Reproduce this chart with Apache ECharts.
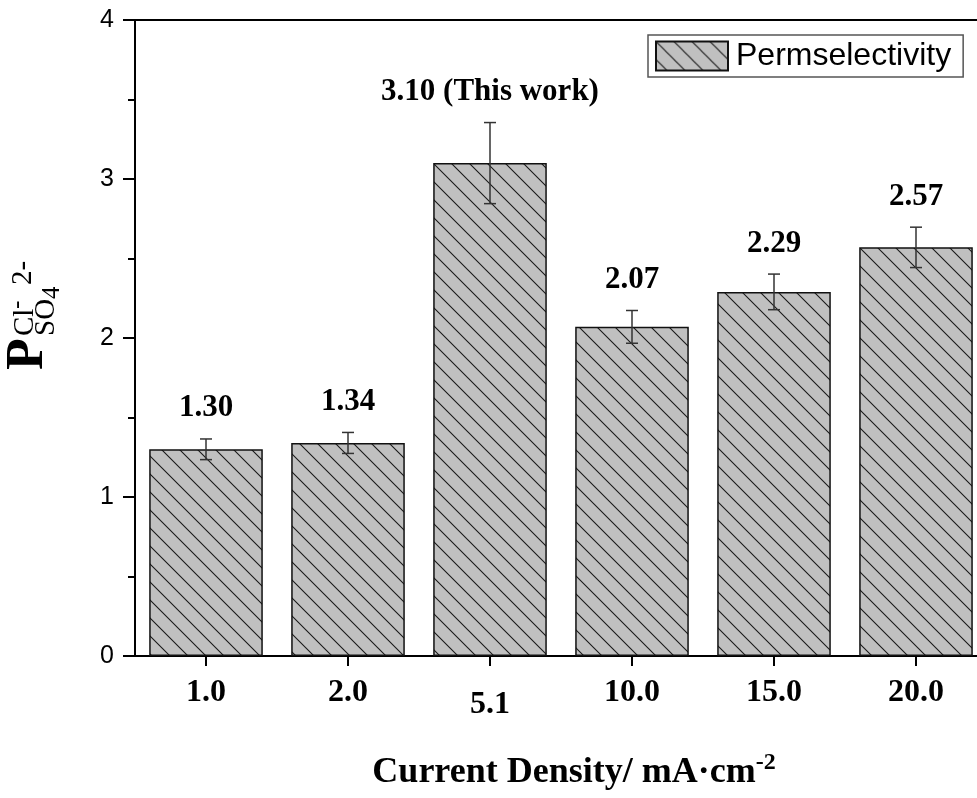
<!DOCTYPE html>
<html><head><meta charset="utf-8">
<script src="https://cdn.jsdelivr.net/npm/echarts@6/dist/echarts.min.js"></script>
<style>html,body{margin:0;padding:0;background:#fff}#c{width:977px;height:798px}</style>
</head><body><div id="c"></div>
<script>
const categories = ['1.0', '2.0', '5.1', '10.0', '15.0', '20.0'];
const values = [1.30, 1.34, 3.10, 2.07, 2.29, 2.57];
const errors = [0.065, 0.066, 0.255, 0.103, 0.112, 0.127];
const barLabels = ['1.30', '1.34', '3.10 (This work)', '2.07', '2.29', '2.57'];
const seriesName = 'Permselectivity';
const xTitle = 'Current Density/ mA·cm';
const xTitleSup = '-2';

function makePattern() {
  const s = 18;
  const c = document.createElement('canvas');
  c.width = s; c.height = s;
  const g = c.getContext('2d');
  g.fillStyle = '#c0c0c0';
  g.fillRect(0, 0, s, s);
  g.strokeStyle = '#1a1a1a';
  g.lineWidth = 1.1;
  g.beginPath();
  g.moveTo(-2, -2); g.lineTo(s + 2, s + 2);
  g.moveTo(-2, s - 2); g.lineTo(2, s + 2);
  g.moveTo(s - 2, -2); g.lineTo(s + 2, 2);
  g.stroke();
  return c;
}
const pattern = makePattern();
const serif = '"Liberation Serif", "Times New Roman", serif';
const sans = '"Liberation Sans", Arial, sans-serif';

const chart = echarts.init(document.getElementById('c'), null, {renderer: 'canvas'});
chart.setOption({
  backgroundColor: '#fff',
  animation: false,
  grid: {left: 135, width: 852, top: 20, bottom: 142, outerBoundsMode: 'none', containLabel: false, show: true, borderColor: '#000', borderWidth: 2, backgroundColor: 'transparent'},
  legend: {
    data: [seriesName], left: 648, top: 35, itemWidth: 72, itemHeight: 29,
    padding: [5, 12, 5, 7], borderColor: '#555', borderWidth: 1.5, icon: 'rect',
    textStyle: {fontFamily: sans, fontSize: 32, color: '#000', padding: [0, 0, 0, 3]}
  },
  xAxis: {
    type: 'category', data: categories,
    axisLine: {lineStyle: {color: '#000', width: 2}},
    axisTick: {show: true, alignWithLabel: true, interval: 0, length: 10, lineStyle: {color: '#000', width: 2}},
    axisLabel: {
      interval: 0,
      color: '#000', fontFamily: serif, fontWeight: 'bold', fontSize: 32, margin: 21,
      formatter: v => v === '5.1' ? '{low|' + v + '}' : v,
      rich: {low: {fontFamily: serif, fontWeight: 'bold', fontSize: 32, color: '#000', padding: [12, 0, 0, 0]}}
    },
    name: '{t|' + xTitle + '}{s|' + xTitleSup + '}',
    nameLocation: 'middle', nameGap: 95,
    nameTextStyle: {
      padding: [0, 0, 0, 26],
      rich: {
        t: {fontFamily: serif, fontWeight: 'bold', fontSize: 36, color: '#000'},
        s: {fontFamily: serif, fontWeight: 'bold', fontSize: 24, color: '#000', verticalAlign: 'top', padding: [0, 0, 20, 0]}
      }
    }
  },
  yAxis: {
    type: 'value', min: 0, max: 4, interval: 1,
    axisLine: {show: true, lineStyle: {color: '#000', width: 2}},
    axisTick: {show: true, length: 12, lineStyle: {color: '#000', width: 2}},
    minorTick: {show: true, splitNumber: 2, length: 7, lineStyle: {color: '#000', width: 2}},
    splitLine: {show: false},
    axisLabel: {color: '#000', fontFamily: sans, fontSize: 25, margin: 21}
  },
  graphic: [{
    type: 'group', x: 46, y: 370, rotation: Math.PI / 2,
    children: [
      {type: 'text', x: 0, y: -17, style: {text: 'P', font: 'bold 52px ' + serif, fill: '#000', align: 'left', verticalAlign: 'middle'}},
      {type: 'text', x: 34, y: -21, style: {text: 'Cl', font: '29px ' + serif, fill: '#000', align: 'left', verticalAlign: 'middle'}},
      {type: 'text', x: 61, y: -29, style: {text: '-', font: '25px ' + serif, fill: '#000', align: 'left', verticalAlign: 'middle'}},
      {type: 'text', x: 34, y: 0, style: {text: 'SO', font: '29px ' + serif, fill: '#000', align: 'left', verticalAlign: 'middle'}},
      {type: 'text', x: 71, y: 6, style: {text: '4', font: '25px ' + serif, fill: '#000', align: 'left', verticalAlign: 'middle'}},
      {type: 'text', x: 85, y: -23, style: {text: '2-', font: '29px ' + serif, fill: '#000', align: 'left', verticalAlign: 'middle'}}
    ]
  }],
  series: [
    {
      name: seriesName, type: 'bar', data: values, barWidth: '80%',
      itemStyle: {color: {image: pattern, repeat: 'repeat'}, borderColor: '#111', borderWidth: 1.5}
    },
    {
      name: 'err', type: 'custom', silent: true, z: 10,
      data: values.map((v, i) => [i, v, errors[i]]),
      renderItem: function (params, api) {
        const i = api.value(0), v = api.value(1), e = api.value(2);
        const top = api.coord([i, v + e]);
        const bot = api.coord([i, v - e]);
        const cap = 6;
        const st = {stroke: '#333', lineWidth: 1.5};
        return {
          type: 'group', children: [
            {type: 'line', shape: {x1: top[0], y1: top[1], x2: bot[0], y2: bot[1]}, style: st},
            {type: 'line', shape: {x1: top[0] - cap, y1: top[1], x2: top[0] + cap, y2: top[1]}, style: st},
            {type: 'line', shape: {x1: bot[0] - cap, y1: bot[1], x2: bot[0] + cap, y2: bot[1]}, style: st},
            {type: 'text', style: {text: barLabels[i], x: top[0], y: top[1] - 15, align: 'center', verticalAlign: 'bottom', font: 'bold 31px ' + serif, fill: '#000'}}
          ]
        };
      }
    }
  ]
});
</script>
</body></html>
